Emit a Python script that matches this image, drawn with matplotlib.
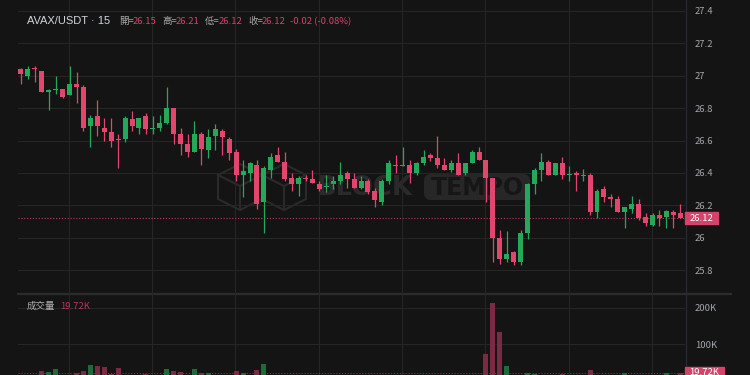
import matplotlib.pyplot as plt
from matplotlib.patches import Rectangle, FancyBboxPatch, Polygon
from matplotlib.transforms import blended_transform_factory
import numpy as np

plt.rcParams['font.family'] = ['Noto Sans CJK TC', 'DejaVu Sans']

# 15 min candles, AVAX/USDT
opens = [27.04, 27.00, 27.05, 27.03, 26.90, 26.91, 26.92, 26.88, 26.95, 26.93,
         26.69, 26.75, 26.68, 26.65, 26.61, 26.61, 26.73, 26.68, 26.75, 26.67,
         26.68, 26.71, 26.80, 26.64, 26.58, 26.53, 26.64, 26.54, 26.63, 26.66,
         26.61, 26.53, 26.39, 26.40, 26.45, 26.22, 26.42, 26.51, 26.47, 26.37,
         26.33, 26.37, 26.36, 26.33, 26.315, 26.33, 26.35, 26.40, 26.36, 26.31,
         26.35, 26.29, 26.22, 26.35, 26.45, 26.443, 26.447, 26.40, 26.46, 26.51,
         26.49, 26.447, 26.42, 26.46, 26.40, 26.46, 26.53, 26.48, 26.37, 26.00,
         25.87, 25.91, 25.85, 26.03, 26.33, 26.42, 26.47, 26.39, 26.46, 26.387,
         26.40, 26.381, 26.39, 26.16, 26.30, 26.25, 26.24, 26.16, 26.18, 26.21,
         26.13, 26.08, 26.14, 26.13, 26.16, 26.15]
highs = [27.05, 27.06, 27.06, 27.03, 26.92, 27.00, 26.92, 27.06, 27.02, 26.94,
         26.76, 26.85, 26.74, 26.74, 26.64, 26.75, 26.78, 26.74, 26.77, 26.75,
         26.76, 26.93, 26.80, 26.68, 26.64, 26.72, 26.65, 26.67, 26.70, 26.67,
         26.62, 26.55, 26.48, 26.47, 26.48, 26.44, 26.52, 26.56, 26.53, 26.40,
         26.38, 26.39, 26.42, 26.35, 26.39, 26.38, 26.47, 26.41, 26.40, 26.38,
         26.36, 26.31, 26.36, 26.48, 26.51, 26.558, 26.48, 26.47, 26.54, 26.525,
         26.63, 26.49, 26.48, 26.52, 26.46, 26.54, 26.56, 26.48, 26.37, 26.05,
         26.04, 25.92, 26.05, 26.34, 26.43, 26.52, 26.48, 26.46, 26.50, 26.44,
         26.41, 26.422, 26.397, 26.30, 26.32, 26.27, 26.26, 26.19, 26.26, 26.24,
         26.15, 26.15, 26.17, 26.17, 26.17, 26.21]
lows = [26.95, 26.98, 26.96, 26.90, 26.79, 26.89, 26.86, 26.88, 26.83, 26.66,
        26.56, 26.63, 26.60, 26.56, 26.43, 26.59, 26.66, 26.64, 26.64, 26.64,
        26.66, 26.70, 26.58, 26.51, 26.50, 26.53, 26.45, 26.49, 26.54, 26.51,
        26.48, 26.35, 26.25, 26.35, 26.18, 26.03, 26.37, 26.47, 26.35, 26.29,
        26.26, 26.35, 26.335, 26.29, 26.28, 26.30, 26.33, 26.31, 26.305, 26.30,
        26.27, 26.19, 26.20, 26.33, 26.40, 26.443, 26.336, 26.39, 26.45, 26.474,
        26.43, 26.418, 26.405, 26.39, 26.39, 26.46, 26.48, 26.22, 25.85, 25.84,
        25.85, 25.83, 25.83, 25.99, 26.27, 26.35, 26.39, 26.39, 26.36, 26.348,
        26.29, 26.348, 26.14, 26.12, 26.22, 26.19, 26.16, 26.06, 26.15, 26.11,
        26.07, 26.07, 26.07, 26.06, 26.06, 26.12]
closes = [27.01, 27.04, 27.04, 26.90, 26.91, 26.92, 26.87, 26.95, 26.93, 26.68,
          26.74, 26.69, 26.65, 26.60, 26.605, 26.74, 26.69, 26.74, 26.67, 26.68,
          26.71, 26.80, 26.64, 26.58, 26.53, 26.64, 26.55, 26.62, 26.67, 26.62,
          26.52, 26.39, 26.41, 26.46, 26.21, 26.43, 26.50, 26.47, 26.36, 26.33,
          26.37, 26.36, 26.34, 26.30, 26.32, 26.35, 26.39, 26.36, 26.31, 26.35,
          26.28, 26.23, 26.35, 26.46, 26.44, 26.447, 26.40, 26.46, 26.50, 26.49,
          26.45, 26.42, 26.46, 26.39, 26.46, 26.53, 26.48, 26.37, 26.00, 25.87,
          25.90, 25.85, 26.03, 26.33, 26.42, 26.47, 26.39, 26.46, 26.39, 26.391,
          26.39, 26.389, 26.16, 26.29, 26.25, 26.24, 26.16, 26.19, 26.21, 26.12,
          26.09, 26.14, 26.12, 26.167, 26.14, 26.12]
# volume in thousands
volumes = [8, 9, 7, 25, 23, 31, 10, 12, 19, 26,
           42, 39, 37, 17, 33, 12, 10, 9, 17, 8,
           10, 31, 26, 22, 12, 31, 19, 21, 11, 10,
           12, 25, 21, 12, 28, 44, 12, 8, 11, 9,
           8, 6, 7, 9, 6, 7, 10, 8, 9, 7,
           10, 12, 13, 12, 8, 9, 10, 8, 9, 6,
           11, 7, 8, 10, 9, 11, 12, 72, 214, 134,
           39, 13, 12, 19, 17, 12, 8, 9, 18, 7,
           8, 6, 28, 12, 9, 8, 10, 19, 10, 12,
           9, 10, 8, 19, 11, 19.72]

price_ticks = [25.8, 26, 26.2, 26.4, 26.6, 26.8, 27, 27.2, 27.4]
vol_ticks = [100, 200]
vol_tick_labels = ['100K', '200K']

bg = '#141414'
up = '#26a85b'
down = '#e2466c'
up_vol = '#1d6a3d'
down_vol = '#7a2a43'
grid_c = '#262626'
txt_c = '#a3a6ad'

W, H = 750, 375
fig = plt.figure(figsize=(7.5, 3.75), dpi=100, facecolor=bg)

# decoration layer in pixel coords (watermark, separators)
dx = fig.add_axes([0, 0, 1, 1], zorder=0)
dx.set_xlim(0, W)
dx.set_ylim(H, 0)
dx.axis('off')

ax = fig.add_axes([18 / W, 1 - 293 / H, 667 / W, 293 / H], zorder=1)
axv = fig.add_axes([18 / W, 0, 667 / W, 82 / H], zorder=1, sharex=ax)
for a in (ax, axv):
    a.set_facecolor('none')
    for s in a.spines.values():
        s.set_visible(False)
    a.tick_params(axis='both', length=0, labelsize=6.8, labelcolor=txt_c, pad=7)
    a.yaxis.tick_right()
    a.set_xticks(6.9 + 12 * np.arange(8))
    a.tick_params(axis='x', labelbottom=False)
    a.grid(True, color=grid_c, lw=0.8)
    a.set_axisbelow(True)

x = np.arange(len(opens))
o = np.array(opens)
c = np.array(closes)
is_up = c >= o
cols = np.where(is_up, up, down)

ax.vlines(x, lows, highs, colors=cols, lw=0.9, zorder=3)
bot = np.minimum(o, c)
hgt = np.maximum(np.abs(c - o), 0.004)
ax.bar(x, hgt, bottom=bot, width=0.72, color=cols, lw=0, zorder=4)

ax.set_xlim(-0.43, 95.68)
ax.set_ylim(25.659, 27.467)
ax.set_yticks(price_ticks)
ax.set_yticklabels(['%g' % t for t in price_ticks])

axv.bar(x, volumes, width=0.72, color=np.where(is_up, up_vol, down_vol), lw=0, zorder=3)
axv.set_ylim(14.6, 240.5)
axv.set_yticks(vol_ticks)
axv.set_yticklabels(vol_tick_labels)

# last value lines and labels
last = closes[-1]
ax.axhline(last, color='#b8395c', lw=0.8, ls=(0, (1, 1.6)), zorder=2)
axv.axhline(volumes[-1], color='#8a2e48', lw=0.8, ls=(0, (1, 1.6)), zorder=2)
tr = blended_transform_factory(ax.transAxes, ax.transData)
ax.add_patch(Rectangle((1.0, last - 0.037), 33 / 667, 0.074, transform=tr,
                       color='#d5426a', clip_on=False, zorder=5))
ax.text(1.0 + 16.5 / 667, last, '%.2f' % last, transform=tr, ha='center', va='center',
        fontsize=6.8, color='white', clip_on=False, zorder=6)
trv = blended_transform_factory(axv.transAxes, axv.transData)
axv.add_patch(Rectangle((1.0, volumes[-1] - 16), 39 / 667, 32, transform=trv,
                        color='#d5426a', clip_on=False, zorder=5))
axv.text(1.0 + 19.5 / 667, volumes[-1] + 2.5, '%.2fK' % volumes[-1], transform=trv,
         ha='center', va='center', fontsize=6.8, color='white', clip_on=False, zorder=6)

# pane separator and right scale line
dx.plot([18, 731], [293.5, 293.5], color='#2c2c2c', lw=1.6)
dx.plot([685.5, 685.5], [0, H], color='#2a2a3a', lw=0.9)

# watermark: cube logo, BLOCK, boxed TEMPO
wm = '#2a2a2a'
for cx in (240, 284):
    cube = [(cx, 164), (cx + 22, 175), (cx + 22, 199), (cx, 210), (cx - 22, 199), (cx - 22, 175)]
    dx.add_patch(Polygon(cube, closed=True, fill=False, ec=wm, lw=1.5))
    dx.plot([cx - 22, cx, cx + 22], [175, 186, 175], color=wm, lw=1.5)
    dx.plot([cx, cx], [186, 210], color=wm, lw=1.5)
dx.text(317, 188, 'BLOCK', fontsize=18.5, fontweight='bold', color=wm,
        family='DejaVu Sans', ha='left', va='center')
dx.add_patch(FancyBboxPatch((424, 174), 106, 26, boxstyle='round,pad=0,rounding_size=7',
                            fc='#272727', ec='none'))
dx.text(477, 188, 'TEMPO', fontsize=17, fontweight='bold', color='#161616',
        family='DejaVu Sans', ha='center', va='center')

# header
def px(xp, yp):
    return xp / W, 1 - yp / H

fig.text(*px(27, 21.5), 'AVAX/USDT · 15', fontsize=8.0, color='#d1d4dc', va='center',
         family='Liberation Sans')
lab_c = '#a8a8a8'
val_c = '#d5426a'
for lx, lab, val in [(119, '開=', '26.15'), (162, '高=', '26.21'),
                     (205, '低=', '26.12'), (248, '收=', '26.12')]:
    fig.text(*px(lx, 21.5), lab, fontsize=6.8, color=lab_c, va='center')
    fig.text(*px(lx + 14, 21.5), val, fontsize=6.8, color=val_c, va='center')
fig.text(*px(290.5, 21.5), '-0.02 (-0.08%)', fontsize=6.8, color=val_c, va='center')

fig.text(*px(27, 306.5), '成交量', fontsize=6.8, color='#b0b0b0', va='center')
fig.text(*px(60, 306.5), '19.72K', fontsize=6.8, color='#b3375a', va='center')

fig.savefig('out.png', dpi=100, facecolor=bg)
